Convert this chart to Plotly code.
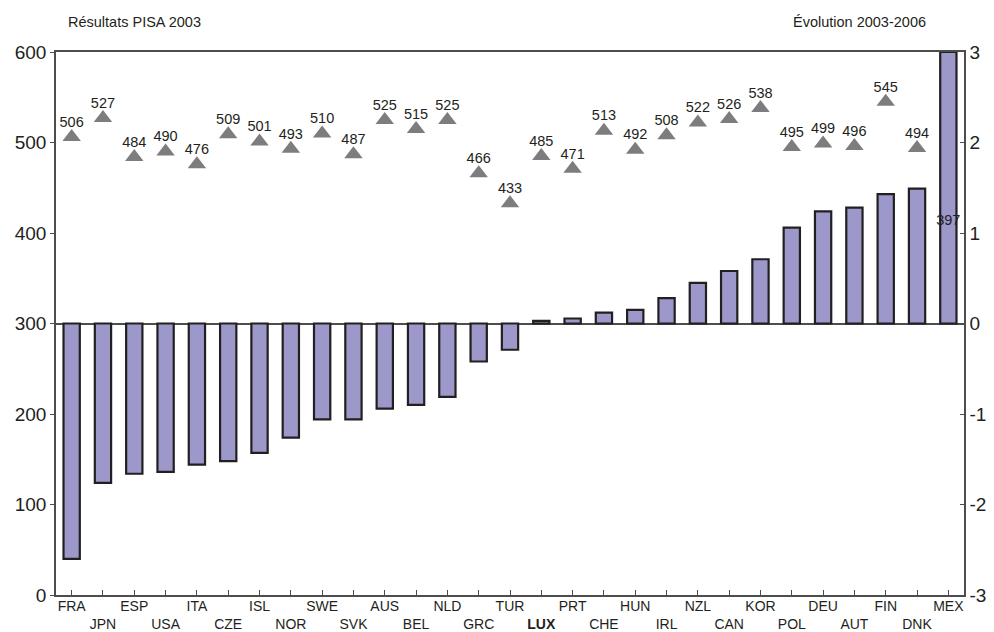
import plotly.graph_objects as go

# Countries, PISA 2003 score and change 2003-2006 (right-hand scale)
countries = ["FRA", "JPN", "ESP", "USA", "ITA", "CZE", "ISL", "NOR", "SWE", "SVK",
             "AUS", "BEL", "NLD", "GRC", "TUR", "LUX", "PRT", "CHE", "HUN", "IRL",
             "NZL", "CAN", "KOR", "POL", "DEU", "AUT", "FIN", "DNK", "MEX"]
pisa_2003 = [506, 527, 484, 490, 476, 509, 501, 493, 510, 487,
             525, 515, 525, 466, 433, 485, 471, 513, 492, 508,
             522, 526, 538, 495, 499, 496, 545, 494, 397]
evolution = [-2.60, -1.76, -1.66, -1.64, -1.56, -1.52, -1.43, -1.26, -1.06, -1.06,
             -0.94, -0.90, -0.81, -0.42, -0.29, 0.03, 0.055, 0.12, 0.15, 0.28,
             0.45, 0.58, 0.71, 1.06, 1.24, 1.28, 1.43, 1.49, 3.0]
left_ticks = [0, 100, 200, 300, 400, 500, 600]
right_ticks = [-3, -2, -1, 0, 1, 2, 3]
right_labels = ["-3", "-2", "-1", "0", "1", "2", "3"]

FONT = "Liberation Sans, Arial, sans-serif"
TXT = "#231f20"
AX = "#4d4d4d"

# staggered category labels, Luxembourg in bold
tick_text = []
for i, c in enumerate(countries):
    lab = f"<b>{c}</b>" if c == "LUX" else c
    tick_text.append(lab if i % 2 == 0 else "<br>" + lab)

fig = go.Figure()

# scores as grey triangles (left scale)
fig.add_trace(go.Scatter(
    x=countries, y=pisa_2003, mode="markers",
    marker=dict(symbol="triangle-up", size=16, color="#7d7d7f", line=dict(width=0)),
    yaxis="y", showlegend=False, hoverinfo="skip"))

# change 2003-2006 as bars (right scale), drawn over the triangles
fig.add_trace(go.Bar(
    x=countries, y=evolution, yaxis="y2", width=0.52,
    marker=dict(color="#9c98ca", line=dict(color=TXT, width=2.2)),
    showlegend=False, hoverinfo="skip"))

# score labels on top of everything
fig.add_trace(go.Scatter(
    x=countries, y=pisa_2003, mode="markers+text", yaxis="y3",
    text=[str(v) for v in pisa_2003], textposition="top center",
    textfont=dict(family=FONT, size=14.5, color=TXT),
    marker=dict(size=9, opacity=0), showlegend=False, hoverinfo="skip",
    cliponaxis=False))

fig.update_layout(
    width=994, height=632,
    margin=dict(l=56, r=30, t=52, b=37),
    paper_bgcolor="white", plot_bgcolor="white",
    font=dict(family=FONT, color=TXT),
    xaxis=dict(
        type="category", tickmode="array", tickvals=countries, ticktext=tick_text,
        tickangle=0, automargin=False, ticklabelstandoff=-3,
        ticks="inside", ticklen=5, tickcolor=AX, tickwidth=1,
        showline=True, linecolor=AX, linewidth=1.5, mirror=True,
        showgrid=False, tickfont=dict(family=FONT, size=14, color=TXT),
        range=[-0.5, len(countries) - 0.5]),
    yaxis=dict(
        range=[0, 600], tickvals=left_ticks, ticks="outside", ticklen=4,
        tickcolor=AX, showline=True, linecolor=AX, linewidth=1.5, automargin=False,
        showgrid=False, zeroline=False, tickfont=dict(family=FONT, size=19, color=TXT)),
    yaxis2=dict(
        range=[-3, 3], tickvals=right_ticks, ticktext=right_labels,
        overlaying="y", side="right", automargin=False,
        ticks="inside", ticklen=4, tickcolor=AX, showline=True, linecolor=AX,
        linewidth=1.5, showgrid=False, zeroline=True, zerolinecolor=AX,
        zerolinewidth=1.5, tickfont=dict(family=FONT, size=19, color=TXT)),
    yaxis3=dict(range=[0, 600], overlaying="y", visible=False),
    annotations=[
        dict(text="Résultats PISA 2003", xref="paper", yref="paper", x=0.011, y=1.0,
             yshift=30, xanchor="left", yanchor="middle", showarrow=False,
             font=dict(family=FONT, size=14.5, color=TXT)),
        dict(text="Évolution 2003-2006", xref="paper", yref="paper", x=0.96, y=1.0,
             yshift=30, xanchor="right", yanchor="middle", showarrow=False,
             font=dict(family=FONT, size=14.5, color=TXT)),
    ],
)

fig.write_html("out.html")
